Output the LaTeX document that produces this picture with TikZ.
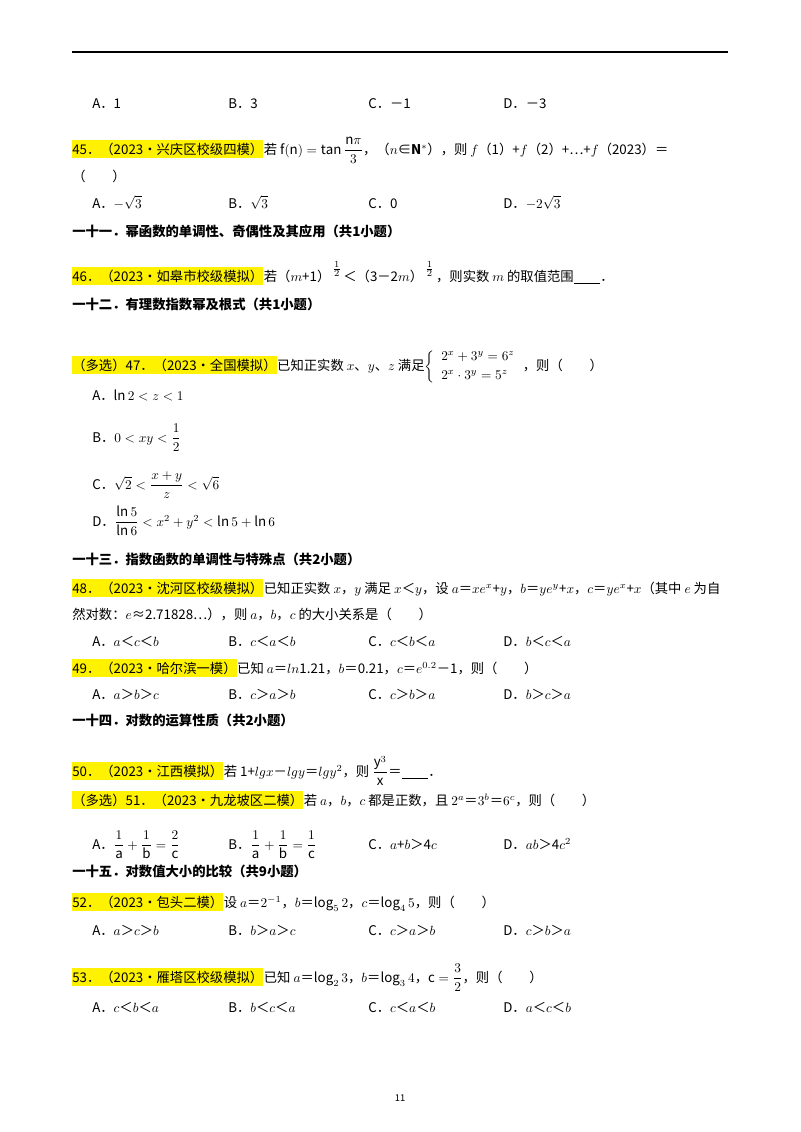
\documentclass[tikz,border=0pt]{standalone}
\usepackage{amsmath,amssymb}
\usepackage{fontspec}
\setmainfont{Noto Sans CJK SC}
\begin{document}
\begin{tikzpicture}[x=0.75pt,y=-0.75pt,
 t/.style={anchor=base west,inner sep=0pt,font=\fontsize{10}{12}\selectfont},
 hl/.style={t,fill=yellow,inner ysep=2pt,inner xsep=0pt},
 hd/.style={t,font=\fontsize{10}{12}\selectfont\bfseries}]
\useasboundingbox[fill=white] (0,0) rectangle (800,1132);
\draw[line width=1pt] (72,52) -- (728,52);
\node[t] (a44) at (92,108) {A．1};
\node[t] (b44) at (228,108) {B．3};
\node[t] (c44) at (368,108) {C．－1};
\node[t] (d44) at (503,108) {D．－3};
\node[hl] (h45) at (72,154) {45．（2023•兴庆区校级四模）};
\node[t] (q45) at (h45.base east) {若 $\mathrm{f}(\mathrm{n})=\tan\dfrac{\mathrm{n}\pi}{3}$，（$n$∈$\mathbf{N}^*$），则 $f$（1）+$f$（2）+…+$f$（2023）＝};
\node[t] (p45) at (72,181) {（　　）};
\node[t] (a45) at (92,208) {A．$-\sqrt{3}$};
\node[t] (b45) at (228,208) {B．$\sqrt{3}$};
\node[t] (c45) at (368,208) {C．0};
\node[t] (d45) at (503,208) {D．$-2\sqrt{3}$};
\node[hd] (s11) at (72,236) {一十一．幂函数的单调性、奇偶性及其应用（共1小题）};
\node[hl] (h46) at (72,281) {46．（2023•如皋市校级模拟）};
\node[t] (q46) at (h46.base east) {若（$m$+1）\,\raisebox{1.2ex}{$\frac{1}{2}$}\,＜（3－2$m$）\,\raisebox{1.2ex}{$\frac{1}{2}$}\,，则实数 $m$ 的取值范围\underline{\hspace{2em}}．};
\node[hd] (s12) at (72,309) {一十二．有理数指数幂及根式（共1小题）};
\node[hl] (h47) at (72,370) {（多选）47．（2023•全国模拟）};
\node[t] (q47) at (h47.base east) {已知正实数 $x$、$y$、$z$ 满足$\left\{\begin{array}{l}2^x+3^y=6^z\\[2pt] 2^x\cdot 3^y=5^z\end{array}\right.$，则（　　）};
\node[t] (a47) at (92,400) {A．$\ln 2<z<1$};
\node[t] (b47) at (92,442) {B．$0<xy<\dfrac{1}{2}$};
\node[t] (c47) at (92,489) {C．$\sqrt{2}<\dfrac{x+y}{z}<\sqrt{6}$};
\node[t] (d47) at (92,526) {D．$\dfrac{\ln 5}{\ln 6}<x^2+y^2<\ln 5+\ln 6$};
\node[hd] (s13) at (72,564) {一十三．指数函数的单调性与特殊点（共2小题）};
\node[hl] (h48) at (72,593) {48．（2023•沈河区校级模拟）};
\node[t] (q48) at (h48.base east) {已知正实数 $x$，$y$ 满足 $x$＜$y$，设 $a$＝$xe^x$+$y$，$b$＝$ye^y$+$x$，$c$＝$ye^x$+$x$（其中 $e$ 为自};
\node[t] (r48) at (72,619) {然对数：$e$≈2.71828…），则 $a$，$b$，$c$ 的大小关系是（　　）};
\node[t] (a48) at (92,646) {A．$a$＜$c$＜$b$};
\node[t] (b48) at (228,646) {B．$c$＜$a$＜$b$};
\node[t] (c48) at (368,646) {C．$c$＜$b$＜$a$};
\node[t] (d48) at (503,646) {D．$b$＜$c$＜$a$};
\node[hl] (h49) at (72,673) {49．（2023•哈尔滨一模）};
\node[t] (q49) at (h49.base east) {已知 $a$＝$ln$1.21，$b$＝0.21，$c$＝$e^{0.2}$－1，则（　　）};
\node[t] (a49) at (92,699) {A．$a$＞$b$＞$c$};
\node[t] (b49) at (228,699) {B．$c$＞$a$＞$b$};
\node[t] (c49) at (368,699) {C．$c$＞$b$＞$a$};
\node[t] (d49) at (503,699) {D．$b$＞$c$＞$a$};
\node[hd] (s14) at (72,725) {一十四．对数的运算性质（共2小题）};
\node[hl] (h50) at (72,776) {50．（2023•江西模拟）};
\node[t] (q50) at (h50.base east) {若 1+$lgx$－$lgy$＝$lgy^2$，则 $\dfrac{\mathrm{y}^3}{\mathrm{x}}$＝\underline{\hspace{2em}}．};
\node[hl] (h51) at (72,805) {（多选）51．（2023•九龙坡区二模）};
\node[t] (q51) at (h51.base east) {若 $a$，$b$，$c$ 都是正数，且 $2^a$＝$3^b$＝$6^c$，则（　　）};
\node[t] (a51) at (92,849) {A．$\dfrac{1}{\mathrm{a}}+\dfrac{1}{\mathrm{b}}=\dfrac{2}{\mathrm{c}}$};
\node[t] (b51) at (228,849) {B．$\dfrac{1}{\mathrm{a}}+\dfrac{1}{\mathrm{b}}=\dfrac{1}{\mathrm{c}}$};
\node[t] (c51) at (368,849) {C．$a$+$b$＞4$c$};
\node[t] (d51) at (503,849) {D．$ab$＞4$c^2$};
\node[hd] (s15) at (72,876) {一十五．对数值大小的比较（共9小题）};
\node[hl] (h52) at (72,907) {52．（2023•包头二模）};
\node[t] (q52) at (h52.base east) {设 $a$＝$2^{-1}$，$b$＝$\log_5 2$，$c$＝$\log_4 5$，则（　　）};
\node[t] (a52) at (92,935) {A．$a$＞$c$＞$b$};
\node[t] (b52) at (228,935) {B．$b$＞$a$＞$c$};
\node[t] (c52) at (368,935) {C．$c$＞$a$＞$b$};
\node[t] (d52) at (503,935) {D．$c$＞$b$＞$a$};
\node[hl] (h53) at (72,982) {53．（2023•雁塔区校级模拟）};
\node[t] (q53) at (h53.base east) {已知 $a$＝$\log_2 3$，$b$＝$\log_3 4$，$\mathrm{c}=\dfrac{3}{2}$，则（　　）};
\node[t] (a53) at (92,1012) {A．$c$＜$b$＜$a$};
\node[t] (b53) at (228,1012) {B．$b$＜$c$＜$a$};
\node[t] (c53) at (368,1012) {C．$c$＜$a$＜$b$};
\node[t] (d53) at (503,1012) {D．$a$＜$c$＜$b$};
\node[t,font=\fontsize{7}{8}\selectfont,anchor=base] (pg) at (400,1101) {11};
\end{tikzpicture}
\end{document}
